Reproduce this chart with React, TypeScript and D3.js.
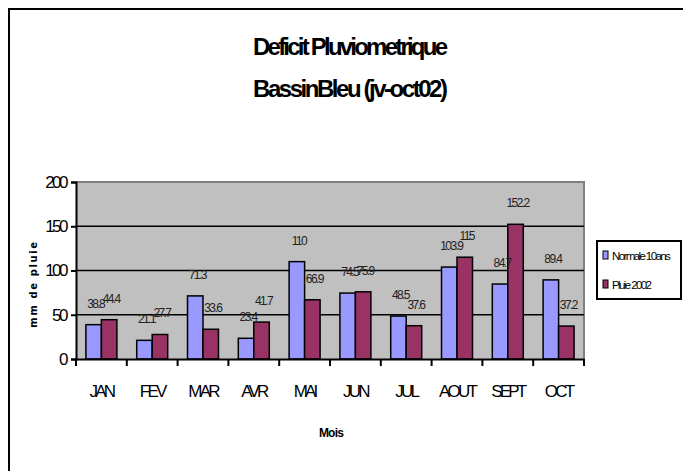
import React, { useRef, useEffect } from 'react';
import * as d3 from 'd3';

const MONTHS: string[] = ['JAN', 'FEV', 'MAR', 'AVR', 'MAI', 'JUN', 'JUL', 'AOUT', 'SEPT', 'OCT'];
const NORMALE: number[] = [38.8, 21.1, 71.3, 23.4, 110, 74.5, 48.5, 103.9, 84.7, 89.4];
const PLUIE: number[] = [44.4, 27.7, 33.6, 41.7, 66.9, 75.9, 37.6, 115, 152.2, 37.2];
const Y_TICKS: number[] = [0, 50, 100, 150, 200];
const SERIES_NAMES: string[] = ['Normale 10ans', 'Pluie 2002'];
const SERIES_COLORS: string[] = ['#9999ff', '#993366'];

const FONT = 'Liberation Sans, Arial, sans-serif';

const App: React.FC = () => {
  const svgRef = useRef<SVGSVGElement>(null);

  useEffect(() => {
    if (!svgRef.current) return;
    const svg = d3.select(svgRef.current);
    svg.selectAll('*').remove();

    const plot = { left: 76, right: 584, top: 182, bottom: 359 };

    // outer frame (right and bottom sides run off the picture)
    svg.append('rect')
      .attr('x', 9).attr('y', 9).attr('width', 720).attr('height', 520)
      .attr('fill', '#fff').attr('stroke', '#000').attr('stroke-width', 2);

    // titles, squeezed like the original
    const titles = ['Deficit Pluviometrique', 'BassinBleu (jv-oct02)'];
    svg.selectAll('.title')
      .data(titles)
      .join('text')
      .attr('class', 'title')
      .attr('x', 253)
      .attr('y', (_, i) => 55 + i * 42)
      .attr('font-family', FONT)
      .attr('font-weight', 'bold')
      .attr('font-size', '24px')
      .attr('textLength', 195)
      .attr('lengthAdjust', 'spacing')
      .text(d => d);

    const x0 = d3.scaleBand().domain(MONTHS).range([plot.left, plot.right]).padding(0);
    const x1 = d3.scaleBand().domain(SERIES_NAMES).range([0, x0.bandwidth()]).paddingInner(0).paddingOuter(0.64);
    const y = d3.scaleLinear().domain([0, 200]).range([plot.bottom, plot.top]);

    // plot background
    svg.append('rect')
      .attr('x', plot.left).attr('y', plot.top)
      .attr('width', plot.right - plot.left).attr('height', plot.bottom - plot.top)
      .attr('fill', '#c0c0c0');
    svg.append('path')
      .attr('d', `M${plot.left},${plot.top}H${plot.right}V${plot.bottom}`)
      .attr('fill', 'none').attr('stroke', '#808080').attr('stroke-width', 2);

    // grid
    svg.append('g')
      .selectAll('line')
      .data(Y_TICKS.filter(t => t > 0 && t < 200))
      .join('line')
      .attr('x1', plot.left).attr('x2', plot.right)
      .attr('y1', d => y(d)).attr('y2', d => y(d))
      .attr('stroke', '#000').attr('stroke-width', 1.5);

    const series = [NORMALE, PLUIE];

    // bars
    series.forEach((vals, si) => {
      svg.append('g')
        .selectAll('rect')
        .data(vals)
        .join('rect')
        .attr('x', (_, i) => x0(MONTHS[i])! + x1(SERIES_NAMES[si])!)
        .attr('y', d => y(d))
        .attr('width', x1.bandwidth())
        .attr('height', d => y(0) - y(d))
        .attr('fill', SERIES_COLORS[si])
        .attr('stroke', '#000')
        .attr('stroke-width', 1.5);
    });

    // value labels
    series.forEach((vals, si) => {
      svg.append('g')
        .selectAll('text')
        .data(vals)
        .join('text')
        .attr('x', (_, i) => x0(MONTHS[i])! + x1(SERIES_NAMES[si])! + x1.bandwidth() / 2 + 2)
        .attr('y', d => y(d) - 17)
        .attr('text-anchor', 'middle')
        .attr('font-family', FONT)
        .attr('font-size', '12px')
        .attr('letter-spacing', '-1.6px')
        .attr('fill', '#222')
        .text(d => String(d));
    });

    // y axis
    const yAxis = svg.append('g')
      .attr('transform', `translate(${plot.left},0)`)
      .call(d3.axisLeft(y).tickValues(Y_TICKS).tickSize(5).tickPadding(5).tickFormat(d3.format('d')));
    yAxis.select('.domain').attr('stroke', '#000').attr('stroke-width', 2);
    yAxis.selectAll('line').attr('stroke', '#000').attr('stroke-width', 2);
    yAxis.selectAll('text')
      .attr('fill', '#000')
      .attr('font-size', '17px')
      .attr('font-family', FONT)
      .attr('letter-spacing', '-2.5px');

    // x axis
    const xAxis = svg.append('g')
      .attr('transform', `translate(0,${plot.bottom})`)
      .call(d3.axisBottom(x0).tickSize(0).tickPadding(26));
    xAxis.select('.domain').attr('stroke', '#000').attr('stroke-width', 2);
    xAxis.selectAll('text')
      .attr('fill', '#000')
      .attr('font-size', '17px')
      .attr('font-family', FONT)
      .attr('letter-spacing', '-2.8px');
    xAxis.append('g')
      .selectAll('line')
      .data(d3.range(MONTHS.length + 1))
      .join('line')
      .attr('x1', i => plot.left + i * x0.step())
      .attr('x2', i => plot.left + i * x0.step())
      .attr('y1', 0).attr('y2', 7)
      .attr('stroke', '#000').attr('stroke-width', 2);

    // axis titles
    svg.append('text')
      .attr('x', 331).attr('y', 437)
      .attr('text-anchor', 'middle')
      .attr('font-family', FONT)
      .attr('font-weight', 'bold')
      .attr('font-size', '12px')
      .attr('letter-spacing', '-0.8px')
      .text('Mois');
    svg.append('text')
      .attr('transform', 'translate(37,284) rotate(-90)')
      .attr('text-anchor', 'middle')
      .attr('font-family', 'DejaVu Sans, sans-serif')
      .attr('font-weight', 'bold')
      .attr('font-size', '10px')
      .attr('letter-spacing', '1.6px')
      .text('mm de pluie');

    // legend
    const lg = svg.append('g').attr('transform', 'translate(597,241)');
    lg.append('rect')
      .attr('width', 84).attr('height', 58)
      .attr('fill', '#fff').attr('stroke', '#000').attr('stroke-width', 2);
    const items = lg.selectAll('.item')
      .data(SERIES_NAMES)
      .join('g')
      .attr('class', 'item')
      .attr('transform', (_, i) => `translate(6,${10 + i * 29})`);
    items.append('rect')
      .attr('width', 5).attr('height', 8)
      .attr('fill', (_, i) => SERIES_COLORS[i])
      .attr('stroke', '#000').attr('stroke-width', 1);
    items.append('text')
      .attr('x', 9).attr('y', 8.5)
      .attr('font-family', FONT)
      .attr('font-size', '11.5px')
      .attr('letter-spacing', '-1.6px')
      .text(d => d);
  }, []);

  return (
    <svg
      ref={svgRef}
      width={683}
      height={471}
      style={{ position: 'absolute', left: 0, top: 0, background: '#fff' }}
    />
  );
};

export default App;
